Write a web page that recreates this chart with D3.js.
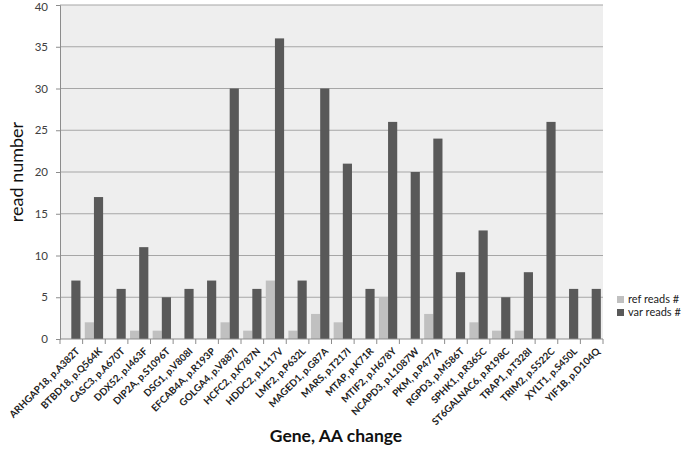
<!DOCTYPE html>
<html><head><meta charset="utf-8">
<script src="https://cdn.jsdelivr.net/npm/d3@7"></script>
<style>body{margin:0;background:#fff}svg{display:block}</style>
</head><body>
<svg id="c" width="685" height="449"></svg>
<script>
const categories = ["ARHGAP18, p.A382T","BTBD18, p.Q564K","CASC3, p.A670T","DDX52, p.I463F","DIP2A, p.S1096T","DSG1, p.V808I","EFCAB4A, p.R193P","GOLGA4, p.V887I","HCFC2, p.K787N","HDDC2, p.L117V","LMF2, p.P632L","MAGED1, p.G87A","MARS, p.T217I","MTAP, p.K71R","MTIF2, p.H678Y","NCAPD3, p.L1087W","PKM, p.P477A","RGPD3, p.M586T","SPHK1, p.R365C","ST6GALNAC6, p.R198C","TRAP1, p.T328I","TRIM2, p.S522C","XYLT1, p.S450L","YIF1B, p.D104Q"];
const refReads = [0,2,0,1,1,0,0,2,1,7,1,3,2,0,5,0,3,0,2,1,1,0,0,0];
const varReads = [7,17,6,11,5,6,7,30,6,36,7,30,21,6,26,20,24,8,13,5,8,26,6,6];
const seriesNames = ["ref reads #","var reads #"];
const yTicks = [0,5,10,15,20,25,30,35,40];
const colors = ["#c0c0c0","#595959"];

const svg = d3.select("#c");
const L=60, R=603, T=5, B=339;
const x = d3.scaleBand().domain(categories).range([L,R]).paddingInner(0.19).paddingOuter(0.095);
const x1 = d3.scaleBand().domain([0,1]).range([0,x.bandwidth()]);
const y = d3.scaleLinear().domain([0,40]).range([B,T]);

svg.append("rect").attr("x",L).attr("y",T).attr("width",R-L).attr("height",B-T).attr("fill","#eeeeee");
svg.append("g").selectAll("line").data(yTicks.filter(d=>d>0)).join("line")
  .attr("x1",L).attr("x2",R).attr("y1",d=>y(d)).attr("y2",d=>y(d))
  .attr("stroke","#a6a6a6").attr("stroke-width",1.2);

const series=[refReads,varReads];
series.forEach((vals,si)=>{
  svg.append("g").selectAll("rect").data(vals).join("rect")
    .attr("x",(d,i)=>x(categories[i])+x1(si))
    .attr("width",x1.bandwidth())
    .attr("y",d=>y(d)).attr("height",d=>B-y(d))
    .attr("fill",colors[si]);
});

// y axis
const ya = svg.append("g").attr("transform",`translate(${L},0)`)
  .call(d3.axisLeft(y).tickValues(yTicks).tickSize(4).tickPadding(8));
ya.select(".domain").attr("stroke","#8c8c8c");
ya.selectAll(".tick line").attr("stroke","#8c8c8c");
ya.selectAll("text").attr("font-family","Lato, 'Open Sans', sans-serif").attr("font-size",11.5).attr("fill","#404040")
  .attr("dy",d=>d===40?"0.45em":"0.32em");

// x axis
const xa = svg.append("g");
xa.append("line").attr("x1",L).attr("x2",R).attr("y1",B).attr("y2",B).attr("stroke","#8c8c8c");
const bounds = d3.range(categories.length+1).map(i=>L+i*(R-L)/categories.length);
xa.selectAll("line.t").data(bounds).join("line").attr("class","t")
  .attr("x1",d=>d).attr("x2",d=>d).attr("y1",B).attr("y2",B+5).attr("stroke","#8c8c8c");
xa.selectAll("text").data(categories).join("text")
  .attr("transform",d=>`translate(${x(d)+x.bandwidth()/2+4},${B+8}) rotate(-45)`)
  .attr("text-anchor","end").attr("dy","0.7em")
  .attr("font-family","Lato, 'Open Sans', sans-serif").attr("font-weight","bold").attr("font-size",9.8).attr("fill","#222")
  .text(d=>d);

// axis titles
svg.append("text").attr("transform",`translate(17,${(T+B)/2}) rotate(-90)`).attr("text-anchor","middle")
  .attr("dy","0.35em").attr("font-family","Lato, 'Open Sans', sans-serif").attr("font-size",18).attr("fill","#111")
  .text("read number");
svg.append("text").attr("x",336).attr("y",442).attr("text-anchor","middle")
  .attr("font-family","Lato, 'Open Sans', sans-serif").attr("font-weight","bold").attr("font-size",17.5).attr("fill","#111")
  .text("Gene, AA change");

// legend
const lg = svg.append("g");
seriesNames.forEach((n,i)=>{
  lg.append("rect").attr("x",617).attr("y",296+i*13).attr("width",7).attr("height",7).attr("fill",colors[i]);
  lg.append("text").attr("x",628).attr("y",299.5+i*13).attr("dy","0.35em")
    .attr("font-family","Lato, 'Open Sans', sans-serif").attr("font-size",11).attr("fill","#222").text(n);
});
</script>
</body></html>
